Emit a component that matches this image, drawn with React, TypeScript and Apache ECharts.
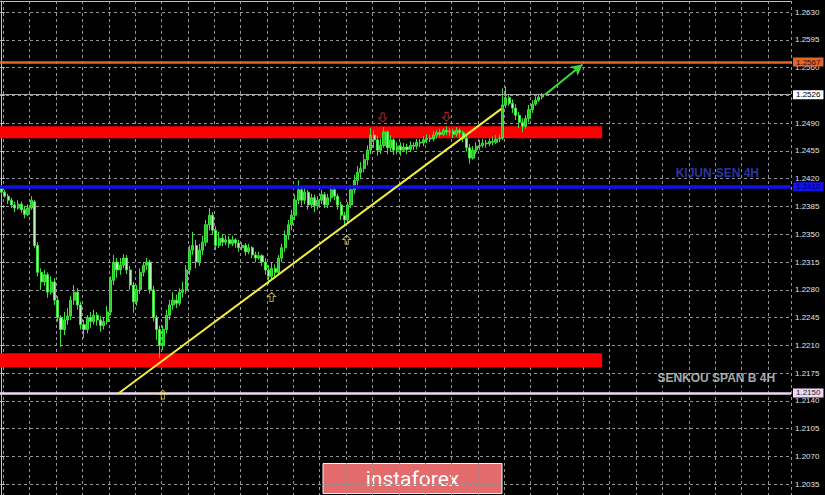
import React, { useEffect, useRef } from "react";
import * as echarts from "echarts";

// ---- Data (EURUSD-like H1 bars) ----
const TOTAL_SLOTS = 240; // bar slots across the visible chart width
const opens = [
  1.2408, 1.2403, 1.2398, 1.2393, 1.2387, 1.2383, 1.2388, 1.2381, 1.2375, 1.2383,
  1.2391, 1.2336, 1.2302, 1.229, 1.2299, 1.2277, 1.229, 1.2267, 1.2245, 1.223,
  1.2242, 1.2247, 1.2267, 1.2277, 1.2261, 1.2236, 1.223, 1.2245, 1.224, 1.2248,
  1.2242, 1.2235, 1.224, 1.2252, 1.2292, 1.2315, 1.2305, 1.2311, 1.232, 1.2305,
  1.2286, 1.2265, 1.228, 1.2302, 1.2311, 1.2315, 1.228, 1.2245, 1.223, 1.221,
  1.223, 1.2248, 1.2261, 1.2267, 1.2263, 1.2277, 1.228, 1.2305, 1.233, 1.2336,
  1.2315, 1.233, 1.234, 1.2362, 1.2374, 1.2355, 1.2336, 1.2345, 1.234, 1.2343,
  1.2338, 1.2343, 1.2339, 1.2333, 1.2336, 1.2328, 1.2333, 1.2324, 1.232, 1.2323,
  1.2315, 1.2305, 1.2297, 1.2307, 1.2302, 1.232, 1.2333, 1.2349, 1.2362, 1.2374,
  1.2393, 1.2406, 1.2393, 1.2403, 1.2387, 1.2396, 1.2386, 1.2393, 1.24, 1.2387,
  1.2396, 1.2406, 1.2398, 1.2387, 1.2374, 1.2368, 1.2387, 1.2406, 1.2418, 1.2428,
  1.2433, 1.2444, 1.2456, 1.2475, 1.2469, 1.2456, 1.2462, 1.2479, 1.2459, 1.2469,
  1.2456, 1.2461, 1.2456, 1.246, 1.2457, 1.2462, 1.2461, 1.2466, 1.2465, 1.2469,
  1.2471, 1.247, 1.2475, 1.2478, 1.2476, 1.2481, 1.2479, 1.248, 1.2476, 1.2481,
  1.2478, 1.2471, 1.2459, 1.2446, 1.2456, 1.2461, 1.2462, 1.2465, 1.2464, 1.2467,
  1.2466, 1.247, 1.2471, 1.2513, 1.2522, 1.2515, 1.2509, 1.25, 1.2491, 1.2486,
  1.2496, 1.2507, 1.2514, 1.2519, 1.2523,
];
const closes = [
  1.2403, 1.2398, 1.2393, 1.2387, 1.2383, 1.2388, 1.2381, 1.2375, 1.2383, 1.2393,
  1.2336, 1.2302, 1.229, 1.2299, 1.2277, 1.229, 1.2267, 1.2245, 1.223, 1.2242,
  1.2247, 1.2267, 1.2277, 1.2261, 1.2236, 1.223, 1.2245, 1.224, 1.2248, 1.2242,
  1.2235, 1.224, 1.2252, 1.2292, 1.2315, 1.2305, 1.2311, 1.232, 1.2305, 1.2286,
  1.2265, 1.228, 1.2302, 1.2311, 1.2315, 1.228, 1.2245, 1.223, 1.221, 1.223,
  1.2248, 1.2261, 1.2267, 1.2263, 1.2277, 1.228, 1.2305, 1.233, 1.2336, 1.2315,
  1.233, 1.234, 1.2362, 1.2374, 1.2355, 1.2336, 1.2345, 1.234, 1.2343, 1.2338,
  1.2343, 1.2339, 1.2333, 1.2336, 1.2328, 1.2333, 1.2324, 1.232, 1.2323, 1.2315,
  1.2305, 1.2297, 1.2307, 1.2302, 1.232, 1.2333, 1.2349, 1.2362, 1.2374, 1.2393,
  1.2406, 1.2393, 1.2403, 1.2387, 1.2396, 1.2386, 1.2393, 1.24, 1.2387, 1.2396,
  1.2406, 1.2398, 1.2387, 1.2374, 1.2368, 1.2387, 1.2406, 1.2418, 1.2428, 1.2433,
  1.2444, 1.2456, 1.2475, 1.2469, 1.2456, 1.2462, 1.2479, 1.2459, 1.2469, 1.2456,
  1.2461, 1.2456, 1.246, 1.2457, 1.2462, 1.2461, 1.2466, 1.2465, 1.2469, 1.2471,
  1.247, 1.2475, 1.2478, 1.2476, 1.2481, 1.2479, 1.248, 1.2476, 1.2481, 1.2478,
  1.2471, 1.2459, 1.2446, 1.2456, 1.2461, 1.2462, 1.2465, 1.2464, 1.2467, 1.2466,
  1.247, 1.2471, 1.2513, 1.2522, 1.2515, 1.2509, 1.25, 1.2491, 1.2486, 1.2496,
  1.2507, 1.2514, 1.2519, 1.2523, 1.2526,
];
const lows = [
  1.24, 1.2396, 1.2388, 1.2383, 1.2378, 1.2381, 1.2377, 1.237, 1.2373, 1.2381,
  1.2333, 1.2297, 1.228, 1.2285, 1.227, 1.2274, 1.2261, 1.224, 1.2208, 1.2223,
  1.2236, 1.2242, 1.2261, 1.2255, 1.223, 1.2219, 1.2225, 1.2232, 1.2236, 1.2235,
  1.2227, 1.223, 1.2236, 1.2248, 1.2286, 1.2295, 1.2299, 1.2307, 1.23, 1.228,
  1.2251, 1.226, 1.2275, 1.2297, 1.2305, 1.2275, 1.224, 1.2217, 1.2194, 1.2204,
  1.2225, 1.2242, 1.2255, 1.2257, 1.226, 1.227, 1.2275, 1.2299, 1.2324, 1.2307,
  1.231, 1.2324, 1.2335, 1.2355, 1.235, 1.233, 1.2333, 1.2335, 1.2336, 1.2333,
  1.2335, 1.2333, 1.2328, 1.233, 1.2323, 1.2325, 1.232, 1.2315, 1.2318, 1.231,
  1.2299, 1.2287, 1.2292, 1.2295, 1.2299, 1.2315, 1.2328, 1.2343, 1.2355, 1.2368,
  1.2388, 1.2386, 1.2388, 1.2381, 1.2383, 1.2378, 1.2381, 1.2388, 1.2383, 1.2383,
  1.2391, 1.2393, 1.2381, 1.2368, 1.236, 1.2363, 1.2383, 1.2401, 1.2412, 1.2421,
  1.2428, 1.2437, 1.2451, 1.2459, 1.2449, 1.2451, 1.2459, 1.2451, 1.2454, 1.245,
  1.2451, 1.2449, 1.2454, 1.2451, 1.2454, 1.2456, 1.2457, 1.246, 1.2461, 1.2465,
  1.2466, 1.2467, 1.2471, 1.2473, 1.2474, 1.2475, 1.2474, 1.2471, 1.2473, 1.2471,
  1.2466, 1.2454, 1.2439, 1.2444, 1.2451, 1.2456, 1.2459, 1.2459, 1.2461, 1.2462,
  1.2464, 1.2466, 1.2469, 1.2509, 1.2512, 1.2503, 1.2494, 1.2484, 1.2479, 1.2483,
  1.2491, 1.2503, 1.2512, 1.2517, 1.252,
];
const highs = [
  1.2411, 1.2406, 1.2401, 1.2396, 1.2391, 1.2393, 1.2391, 1.2386, 1.2388, 1.2398,
  1.2393, 1.234, 1.2307, 1.2305, 1.2302, 1.2297, 1.2295, 1.2272, 1.2248, 1.2252,
  1.2257, 1.2272, 1.2286, 1.2282, 1.2265, 1.2242, 1.2248, 1.2252, 1.2255, 1.2252,
  1.2247, 1.2245, 1.226, 1.2297, 1.2324, 1.232, 1.232, 1.2325, 1.2324, 1.231,
  1.229, 1.2286, 1.2307, 1.2315, 1.232, 1.2318, 1.2285, 1.2248, 1.2235, 1.2235,
  1.2255, 1.2267, 1.2277, 1.2274, 1.2282, 1.229, 1.2311, 1.2336, 1.2353, 1.2343,
  1.2338, 1.2348, 1.2368, 1.2383, 1.2378, 1.236, 1.2353, 1.235, 1.2349, 1.2348,
  1.2348, 1.2345, 1.2343, 1.234, 1.2339, 1.2338, 1.2335, 1.2328, 1.2328, 1.2325,
  1.232, 1.2311, 1.2315, 1.2312, 1.2324, 1.2338, 1.2355, 1.2368, 1.2381, 1.24,
  1.2418, 1.2411, 1.2411, 1.2406, 1.2401, 1.24, 1.2398, 1.2406, 1.2403, 1.2401,
  1.2412, 1.2411, 1.2401, 1.2391, 1.2378, 1.2391, 1.2412, 1.2425, 1.2436, 1.2441,
  1.2451, 1.2462, 1.2484, 1.2481, 1.2474, 1.2471, 1.2485, 1.2481, 1.2475, 1.2471,
  1.2466, 1.2466, 1.2465, 1.2464, 1.2467, 1.2466, 1.247, 1.247, 1.2474, 1.2476,
  1.2475, 1.248, 1.2481, 1.2483, 1.2484, 1.2486, 1.2484, 1.2483, 1.2485, 1.2484,
  1.2481, 1.2475, 1.2464, 1.2461, 1.2466, 1.2469, 1.247, 1.2469, 1.2471, 1.2473,
  1.2475, 1.2476, 1.2534, 1.2536, 1.2527, 1.252, 1.2514, 1.2504, 1.2496, 1.25,
  1.2513, 1.2519, 1.2524, 1.2527, 1.2528,
];

// price axis
const priceMin = 1.2;
const priceMax = 1.2644;
const priceStep = 0.0035;

// horizontal levels
const resistanceLevel = 1.2567;
const bidLevel = 1.2526;
const kijunLevel = 1.241;
const senkouBLevel = 1.215;
// red zones [top, bottom] and the bar where they end
const upperZone = [1.2486, 1.2471];
const lowerZone = [1.22, 1.2182];
const zoneEndBar = 182.2;
// trend line and forecast arrow: [bar, price]
const trendStart = [35.3, 1.2149];
const trendEnd = [151.6, 1.2508];
const arrowStart = [164.9, 1.2526];
const arrowEnd = [176.2, 1.2564];
// signal arrows: [bar, price]
const buySignals = [
  [48.9, 1.2148],
  [81.9, 1.2271],
  [104.7, 1.2343],
];
const sellSignals = [
  [115.6, 1.2497],
  [135.0, 1.2498],
];
// captions: [bar at right edge, price at middle]
const captions = [
  { name: "KIJUN-SEN 4H", bar: 229.8, price: 1.2427, color: "#3b45c6" },
  { name: "SENKOU SPAN B 4H", bar: 234.7, price: 1.2169, color: "#d6d6d6" },
];

const categories = Array.from({ length: TOTAL_SLOTS }, (_, i) => String(i));

const UP_ARROW = "path://M5,0 L10,5 L7,5 L7,11 L3,11 L3,5 L0,5 Z";
const DOWN_ARROW = "path://M3,0 L7,0 L7,6 L10,6 L5,11 L0,6 L3,6 Z";

function priceLabel(bg: string, fg: string) {
  return {
    show: true,
    position: "end" as const,
    distance: 2,
    formatter: (p: any) => Number(p.value).toFixed(4),
    backgroundColor: bg,
    color: fg,
    fontSize: 8,
    lineHeight: 9,
    fontFamily: "Liberation Sans",
    padding: [0, 3, 0, 3],
  };
}

export default function App() {
  const ref = useRef<HTMLDivElement>(null);
  useEffect(() => {
    document.body.style.margin = "0";
    document.body.style.background = "#000";
    document.body.style.overflow = "hidden";
    document.documentElement.style.overflow = "hidden";
    if (!ref.current) return;
    const chart = echarts.init(ref.current, undefined, { renderer: "svg" });
    const candles = opens.map((o, i) => [o, closes[i], lows[i], highs[i]]);
    const option: any = {
      animation: false,
      backgroundColor: "#000000",
      grid: { left: 0, right: 34, top: 1, bottom: 1, containLabel: false },
      xAxis: [
        {
          type: "category",
          data: categories,
          boundaryGap: true,
          position: "bottom",
          axisLine: { show: false },
          axisTick: { show: false },
          axisLabel: { show: false },
          splitLine: {
            show: true,
            interval: (idx: number) => idx % 8 === 1,
            lineStyle: { color: "#949494", type: [3, 3], width: 1 },
          },
        },
        {
          type: "value",
          min: -0.5,
          max: TOTAL_SLOTS - 0.5,
          position: "top",
          axisLine: { show: true, onZero: false, lineStyle: { color: "#bdbdbd", width: 1 } },
          axisTick: { show: false },
          axisLabel: { show: false },
          splitLine: { show: false },
        },
      ],
      yAxis: {
        type: "value",
        position: "right",
        min: priceMin,
        max: priceMax,
        interval: priceStep,
        scale: true,
        axisLine: { show: true, lineStyle: { color: "#c8c8c8", width: 1 } },
        axisTick: { show: true, length: 3, lineStyle: { color: "#c8c8c8" } },
        axisLabel: {
          color: "#e2e2e2",
          fontSize: 8,
          fontFamily: "Liberation Sans",
          margin: 4,
          showMaxLabel: false,
          showMinLabel: false,
          formatter: (v: number) => v.toFixed(4),
        },
        splitLine: { show: true, lineStyle: { color: "#949494", type: [3, 3], width: 1 } },
      },
      series: [
        {
          type: "candlestick",
          xAxisIndex: 0,
          yAxisIndex: 0,
          z: 3,
          barWidth: 2.6,
          data: candles,
          itemStyle: {
            color: "#2cc42c",
            color0: "#b6f5b6",
            borderColor: "#3be43b",
            borderColor0: "#3be43b",
            borderWidth: 1,
          },
          silent: true,
        },
        {
          type: "scatter",
          name: "buy",
          xAxisIndex: 1,
          yAxisIndex: 0,
          z: 6,
          symbol: UP_ARROW,
          symbolSize: [8, 9],
          itemStyle: { color: "rgba(0,0,0,0)", borderColor: "#e6d84a", borderWidth: 1 },
          data: buySignals,
          silent: true,
          markArea: {
            silent: true,
            z: 1,
            itemStyle: { color: "#ff0000" },
            data: [
              [{ coord: [-0.5, upperZone[0]] }, { coord: [zoneEndBar, upperZone[1]] }],
              [{ coord: [-0.5, lowerZone[0]] }, { coord: [zoneEndBar, lowerZone[1]] }],
            ],
          },
          markLine: {
            silent: true,
            z: 5,
            symbol: ["none", "none"],
            precision: 4,
            data: [
              {
                yAxis: resistanceLevel,
                lineStyle: { color: "#e6632b", width: 2.5, type: "solid" },
                label: priceLabel("#e6632b", "#2b0e02"),
              },
              {
                yAxis: bidLevel,
                lineStyle: { color: "#a6a6a6", width: 1, type: "solid" },
                label: priceLabel("#ffffff", "#000000"),
              },
              {
                yAxis: kijunLevel,
                lineStyle: { color: "#1212e8", width: 3.5, type: "solid" },
                label: priceLabel("#1212e8", "#00006a"),
              },
              {
                yAxis: senkouBLevel,
                lineStyle: { color: "#efd8ef", width: 2.5, type: "solid" },
                label: priceLabel("#efd8ef", "#1a1a1a"),
              },
              [
                { coord: trendStart, symbol: "none" },
                {
                  coord: trendEnd,
                  symbol: "none",
                  lineStyle: { color: "#f2ee3c", width: 2, type: "solid" },
                  label: { show: false },
                },
              ],
              [
                { coord: arrowStart, symbol: "none" },
                {
                  coord: arrowEnd,
                  symbol: "arrow",
                  symbolSize: [9, 11],
                  lineStyle: { color: "#3ad83a", width: 2, type: "solid" },
                  label: { show: false },
                },
              ],
            ],
          },
        },
        {
          type: "scatter",
          name: "sell",
          xAxisIndex: 1,
          yAxisIndex: 0,
          z: 6,
          symbol: DOWN_ARROW,
          symbolSize: [8, 9],
          itemStyle: { color: "rgba(0,0,0,0)", borderColor: "#d42a2a", borderWidth: 1 },
          data: sellSignals,
          silent: true,
        },
        {
          type: "scatter",
          name: "captions",
          xAxisIndex: 1,
          yAxisIndex: 0,
          z: 7,
          symbolSize: 0,
          silent: true,
          data: captions.map((c) => ({
            name: c.name,
            value: [c.bar, c.price],
            label: { color: c.color },
          })),
          label: {
            show: true,
            position: "left",
            distance: 0,
            formatter: "{b}",
            fontSize: 12,
            fontWeight: "bold",
            fontFamily: "Liberation Sans",
          },
        },
      ],
      graphic: [
        {
          type: "group",
          left: "center",
          top: 463,
          z: 100,
          children: [
            {
              type: "rect",
              shape: { x: 0, y: 0, width: 179, height: 30 },
              style: { fill: "#e36b6b", stroke: "#f4f4f4", lineWidth: 1 },
            },
            {
              type: "text",
              x: 89.5,
              y: 15,
              style: {
                text: "instaforex",
                fill: "#ffffff",
                font: '21px "Roboto"',
                align: "center",
                verticalAlign: "middle",
              },
            },
          ],
        },
      ],
    };
    chart.setOption(option);
    return () => chart.dispose();
  }, []);
  return <div ref={ref} style={{ width: 825, height: 513 }} />;
}
